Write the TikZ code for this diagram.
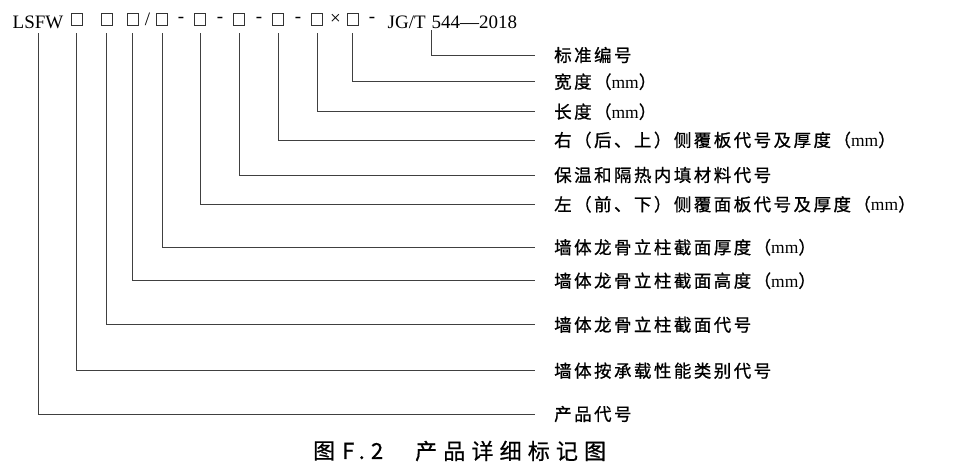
\documentclass[tikz,border=0pt]{standalone}
\usepackage{fontspec}
\setmainfont{Liberation Serif}
\newfontfamily\cjk[LetterSpace=14,FakeBold=0.8]{Noto Sans CJK SC}
\newfontfamily\capfont[LetterSpace=28,FakeBold=0.7]{Noto Sans CJK SC}
\begin{document}
\begin{tikzpicture}[x=1pt,y=-1pt,
  toptext/.style={inner sep=0, font=\fontsize{19}{21}\selectfont},
  boxn/.style={draw=black!80, line width=0.9pt, minimum width=11pt, minimum height=12.5pt, inner sep=0},
  lab/.style={anchor=west, inner sep=0, font=\fontsize{17.5}{20}\selectfont\cjk},
  conn/.style={draw=black!75, line width=1pt},
  captext/.style={anchor=west, inner sep=0, font=\fontsize{22}{24}\selectfont\capfont}]
\useasboundingbox (0,0) rectangle (964,472);
% top code line
\node[toptext, anchor=base west] (lsfw) at (12.5,28) {LSFW};
\foreach \n/\x in {1/76.7,2/106.7,3/132.7,4/162.3,5/200.3,6/239,7/278.3,8/317.3,9/352.7}
  \node[boxn] (b\n) at (\x,19.5) {};
\node[toptext] (sl) at (147.5,19.5) {/};
\foreach \n/\x in {1/181,2/220,3/259,4/298,5/372}
  \node[toptext] (d\n) at (\x,19.5) {-};
\node[toptext] (tm) at (335.5,19.5) {×};
\node[toptext, anchor=base west] (jg) at (387.5,28) {JG/T};
\node[toptext, anchor=base west] (num) at (431.5,28) {544—2018};
% labels
\node[lab] (Lstd)  at (554,55)    {标准编号};
\node[lab] (Lw)    at (554,81.7)  {宽度（{\rmfamily mm}）};
\node[lab] (Ll)    at (554,111.7) {长度（{\rmfamily mm}）};
\node[lab] (Lr)    at (554,140)   {右（后、上）侧覆板代号及厚度（{\rmfamily mm}）};
\node[lab] (Lins)  at (554,175)   {保温和隔热内填材料代号};
\node[lab] (Lleft) at (554,204.3) {左（前、下）侧覆面板代号及厚度（{\rmfamily mm}）};
\node[lab] (Lth)   at (554,247.3) {墙体龙骨立柱截面厚度（{\rmfamily mm}）};
\node[lab] (Lh)    at (554,280.7) {墙体龙骨立柱截面高度（{\rmfamily mm}）};
\node[lab] (Lcode) at (554,324.7) {墙体龙骨立柱截面代号};
\node[lab] (Lcat)  at (554,370.7) {墙体按承载性能类别代号};
\node[lab] (Lprod) at (554,414)   {产品代号};
% connectors
\draw[conn] ([yshift=-5pt]lsfw.south) |- ([xshift=-19pt]Lprod.west);
\draw[conn] ([yshift=-7pt]b1.south) |- ([xshift=-19pt]Lcat.west);
\draw[conn] ([yshift=-7pt]b2.south) |- ([xshift=-19pt]Lcode.west);
\draw[conn] ([yshift=-7pt]b3.south) |- ([xshift=-19pt]Lh.west);
\draw[conn] ([yshift=-7pt]b4.south) |- ([xshift=-19pt]Lth.west);
\draw[conn] ([yshift=-7pt]b5.south) |- ([xshift=-19pt]Lleft.west);
\draw[conn] ([yshift=-7pt]b6.south) |- ([xshift=-19pt]Lins.west);
\draw[conn] ([yshift=-7pt]b7.south) |- ([xshift=-19pt]Lr.west);
\draw[conn] ([yshift=-7pt]b8.south) |- ([xshift=-19pt]Ll.west);
\draw[conn] ([yshift=-7pt]b9.south) |- ([xshift=-19pt]Lw.west);
\draw[conn] ([yshift=-1.5pt]num.south west) |- ([xshift=-19pt]Lstd.west);
% caption
\node[captext] (c1) at (313,451) {图};
\node[captext] (c2) at (342,451) {F.2};
\node[captext] (c3) at (415,451) {产品详细标记图};
\end{tikzpicture}
\end{document}
